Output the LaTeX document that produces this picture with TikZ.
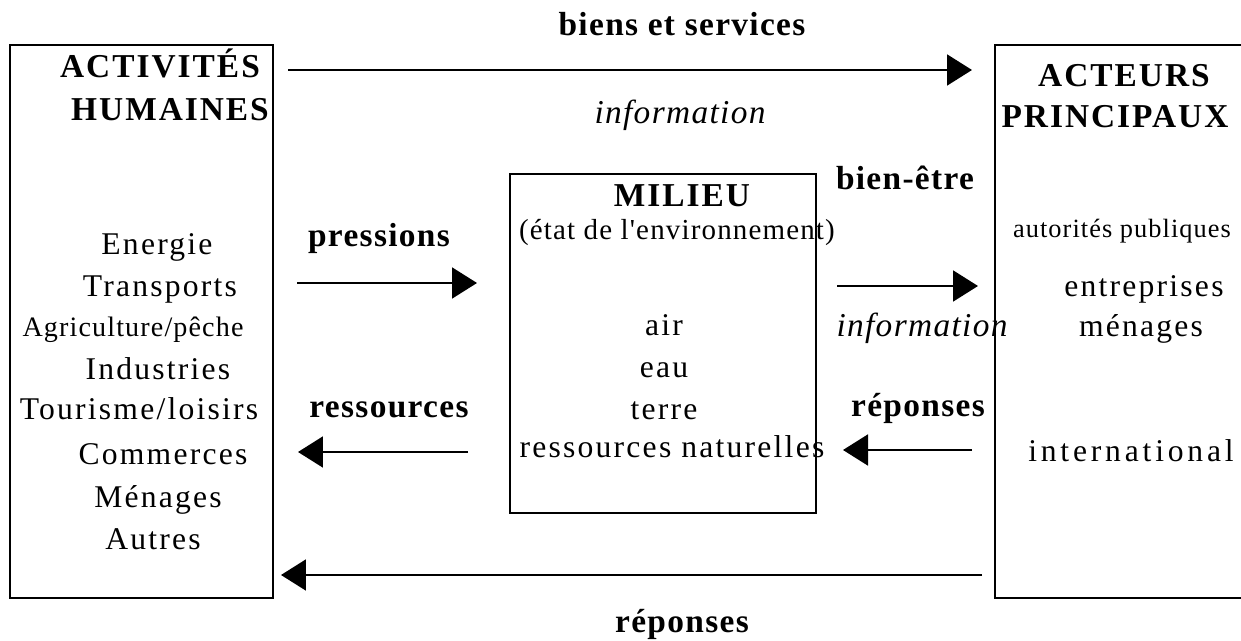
\documentclass[tikz,border=0pt]{standalone}
\usepackage{fontspec}
\setmainfont{Liberation Serif}
\newfontfamily\itemfont[LetterSpace=7]{Liberation Serif}
\newfontfamily\widefont[LetterSpace=12]{Liberation Serif}
\newfontfamily\headfont[LetterSpace=6]{Liberation Serif}
\newfontfamily\flowfont[LetterSpace=4]{Liberation Serif}
\usetikzlibrary{arrows.meta}

\tikzset{
  box/.style={line width=1.1pt},
  item/.style={font=\itemfont\fontsize{18}{22}\selectfont, inner sep=0pt, anchor=base},
  petit/.style={font=\flowfont\fontsize{15}{18}\selectfont, inner sep=0pt, anchor=base},
  head/.style={font=\headfont\bfseries\fontsize{19}{22}\selectfont, inner sep=0pt, anchor=base},
  flow/.style={font=\flowfont\bfseries\fontsize{19}{22}\selectfont, inner sep=0pt, anchor=base},
  info/.style={font=\flowfont\itshape\fontsize{19}{22}\selectfont, inner sep=0pt, anchor=base},
  fleche/.style={line width=1.1pt, -{Triangle[length=0.5cm,width=0.62cm]}}
}

\begin{document}
\begin{tikzpicture}[x=0.02cm,y=-0.02cm]
  \useasboundingbox (0,0) rectangle (1241,641);
  \draw [box] (10,45) rectangle (273,598);
  \draw [box] (510,174) rectangle (816,513);
  \draw [box] (1245,45) -- (995,45) -- (995,598) -- (1245,598);

  \node [head] (activ) at (160,78) {ACTIVITÉS};
  \node [head] (humain) at (170,121) {HUMAINES};
  \node [head] (acteurs) at (1124,87) {ACTEURS};
  \node [head] (princip) at (1115,128) {PRINCIPAUX};
  \node [head] (milieu) at (682,207) {MILIEU};
  \node [font=\flowfont\fontsize{16.5}{20}\selectfont, inner sep=0pt, anchor=base] (etat) at (677,240) {(état de l'environnement)};

  \node [item] (energie) at (157,255) {Energie};
  \node [item] (transp) at (160,297) {Transports};
  \node [font=\flowfont\fontsize{16}{20}\selectfont, inner sep=0pt, anchor=base] (agri) at (133,337) {Agriculture/pêche};
  \node [item] (indus) at (158,380) {Industries};
  \node [item] (touris) at (139,420) {Tourisme/loisirs};
  \node [item] (commer) at (163,465) {Commerces};
  \node [item] (menag) at (158,508) {Ménages};
  \node [item] (autres) at (153,550) {Autres};

  \foreach \txt/\yy [count=\i] in {air/336,eau/378,terre/420}
    \node [item] (mil\i) at (664,\yy) {\txt};
  \node [item] (resnat) at (672,458) {ressources naturelles};

  \node [petit] (autor) at (1122,238) {autorités publiques};
  \node [item] (entrep) at (1144,297) {entreprises};
  \node [item] (menag2) at (1141,337) {ménages};
  \node [item, font=\widefont\fontsize{18}{22}\selectfont] (inter) at (1131,462) {international};

  \node [flow] (biens) at (682,36) {biens et services};
  \node [info] (info1) at (680,124) {information};
  \node [flow] (bienetre) at (905,190) {bien-être};
  \node [flow] (press) at (379,247) {pressions};
  \node [info] (info2) at (922,337) {information};
  \node [flow] (ressour) at (389,418) {ressources};
  \node [flow] (repon1) at (918,417) {réponses};
  \node [flow] (repon2) at (682,632) {réponses};

  \coordinate (bs-a) at (288,70);   \coordinate (bs-b) at (972,70);
  \coordinate (pr-a) at (297,283);  \coordinate (pr-b) at (477,283);
  \coordinate (be-a) at (837,286);  \coordinate (be-b) at (978,286);
  \coordinate (rs-a) at (468,452);  \coordinate (rs-b) at (298,452);
  \coordinate (rp-a) at (972,450);  \coordinate (rp-b) at (843,450);
  \coordinate (rb-a) at (982,575);  \coordinate (rb-b) at (281,575);

  \draw [fleche] (bs-a) -- (bs-b);
  \draw [fleche] (pr-a) -- (pr-b);
  \draw [fleche] (be-a) -- (be-b);
  \draw [fleche] (rs-a) -- (rs-b);
  \draw [fleche] (rp-a) -- (rp-b);
  \draw [fleche] (rb-a) -- (rb-b);
\end{tikzpicture}
\end{document}
